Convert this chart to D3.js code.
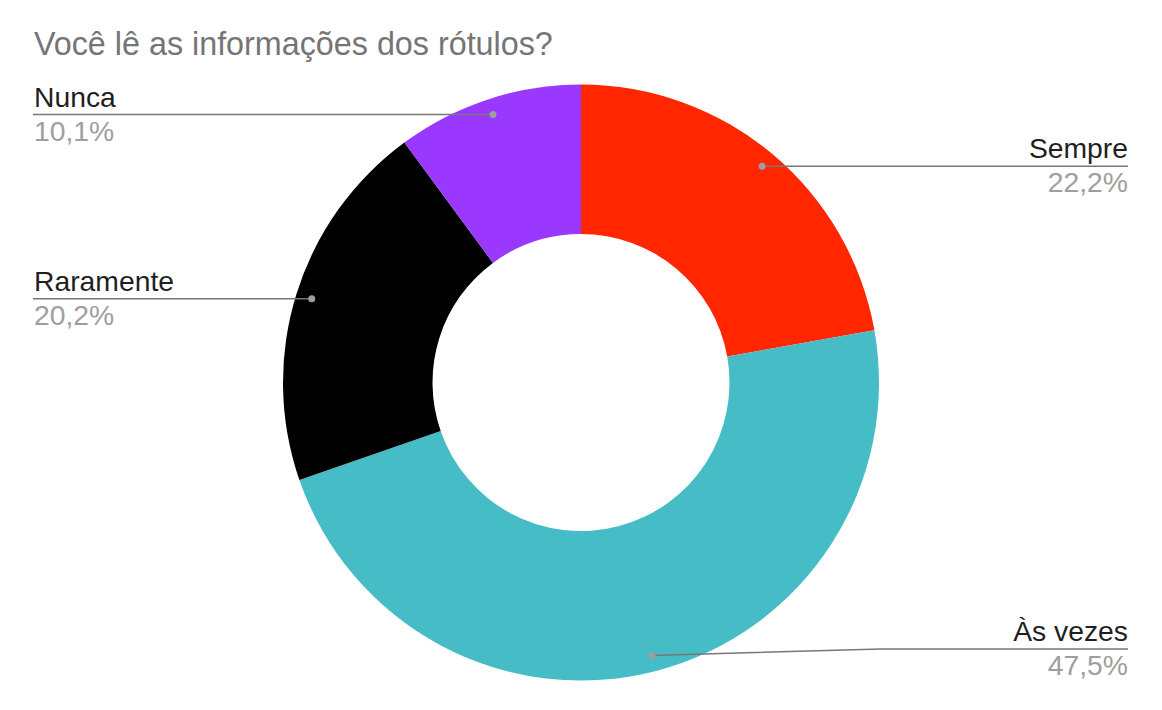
<!DOCTYPE html>
<html><head><meta charset="utf-8">
<script src="https://cdn.jsdelivr.net/npm/d3@7"></script>
<style>html,body{margin:0;padding:0;background:#fff;}svg{display:block;font-family:"Liberation Sans",Arial,sans-serif;}</style>
</head><body>
<svg id="c" width="1162" height="710"></svg>
<script>
const title = "Você lê as informações dos rótulos?";
const categories = ["Sempre", "Às vezes", "Raramente", "Nunca"];
const values = [22.2, 47.5, 20.2, 10.1];
const percentLabels = ["22,2%", "47,5%", "20,2%", "10,1%"];
const colors = ["#ff2600", "#46bcc6", "#000000", "#9a38ff"];

const W = 1162, H = 710;
const cx = 581, cy = 382.5, R = 298, r0 = 148.5, rDot = 282;
const svg = d3.select("#c");

svg.append("text").attr("x", 34).attr("y", 55)
  .attr("font-size", 32.3).attr("fill", "#757575").text(title);

const data = categories.map((c, i) => ({cat: c, v: values[i], pct: percentLabels[i], color: colors[i]}));
const pie = d3.pie().value(d => d.v).sort(null);
const arcs = pie(data);
const arc = d3.arc().innerRadius(r0).outerRadius(R);
const g = svg.append("g").attr("transform", `translate(${cx},${cy})`);
g.selectAll("path").data(arcs).enter().append("path")
  .attr("d", arc).attr("fill", d => d.data.color);

const leftX = 33, rightX = 1128;
arcs.forEach(a => {
  const mid = (a.startAngle + a.endAngle) / 2;
  const dx = cx + rDot * Math.sin(mid), dy = cy - rDot * Math.cos(mid);
  const right = Math.sin(mid) > 0;
  const lineY = Math.min(Math.max(dy, 100), H - 61);
  const elbowX = right ? cx + 300 : cx - 300;
  const endX = right ? rightX : leftX;
  const pts = Math.abs(lineY - dy) > 0.5 ? [[dx, dy], [elbowX, lineY], [endX, lineY]] : [[dx, dy], [endX, lineY]];
  svg.append("path").attr("d", d3.line()(pts)).attr("fill", "none")
    .attr("stroke", "#777").attr("stroke-width", 1.5);
  svg.append("circle").attr("cx", dx).attr("cy", dy).attr("r", 3.5).attr("fill", "#9e9e9e");
  const tx = right ? rightX : 34;
  const anchor = right ? "end" : "start";
  svg.append("text").attr("x", tx).attr("y", lineY - 8).attr("text-anchor", anchor)
    .attr("font-size", 28.3).attr("fill", "#1f1f1f").text(a.data.cat);
  svg.append("text").attr("x", tx).attr("y", lineY + 26).attr("text-anchor", anchor)
    .attr("font-size", 28.3).attr("fill", "#9e9e9e").text(a.data.pct);
});
</script>
</body></html>
